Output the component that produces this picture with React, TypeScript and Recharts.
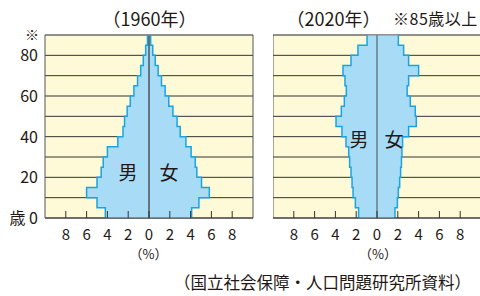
import React from 'react';
import {
  ComposedChart,
  Area,
  XAxis,
  YAxis,
  CartesianGrid,
  ReferenceLine,
} from 'recharts';

// band starts (5-year bands), last entry closes the top band
const AGES = [0, 5, 10, 15, 20, 25, 30, 35, 40, 45, 50, 55, 60, 65, 70, 75, 80, 85, 90];

// % of total population per 5-year band, 0-4 ... 85+
const MALE_1960 = [4.2, 5.0, 6.0, 5.0, 4.6, 4.4, 4.0, 3.0, 2.5, 2.35, 2.1, 1.8, 1.45, 1.1, 0.8, 0.55, 0.32, 0.15];
const FEMALE_1960 = [4.1, 4.8, 5.8, 5.05, 4.6, 4.45, 4.05, 3.55, 3.0, 2.7, 2.3, 1.9, 1.55, 1.2, 0.88, 0.6, 0.36, 0.16];
const MALE_2020 = [1.77, 2.08, 2.3, 2.4, 2.5, 2.63, 2.72, 2.98, 3.37, 3.94, 3.43, 3.14, 2.95, 3.08, 3.27, 2.5, 1.83, 0.96];
const FEMALE_2020 = [1.73, 1.96, 2.05, 2.18, 2.27, 2.35, 2.4, 2.46, 3.04, 3.78, 3.68, 3.2, 2.9, 3.04, 4.0, 3.04, 2.56, 2.05];

const X_TICKS = [-8, -6, -4, -2, 0, 2, 4, 6, 8];
// grid every 10 years, labels every 20 (90 = ※ top row)
const Y_TICKS = [0, 10, 20, 30, 40, 50, 60, 70, 80, 90];

const TEXT = '#231815';
const CREAM = '#fef9d6';
const FILL = '#a8dcf6';
const OUTLINE = '#18a5e3';

const XTick = (props: any) => {
  const { x, y, payload } = props;
  return (
    <g>
      <line x1={x} x2={x} y1={y - 7} y2={y} stroke='#333' />
      <text x={x} y={y + 22} textAnchor='middle' fontSize={15} fill={TEXT}>
        {Math.abs(payload.value)}
      </text>
    </g>
  );
};

const YTick = (props: any) => {
  const { x, y, payload } = props;
  const v = payload.value;
  if (v === 90) {
    return (
      <text x={x + 1} y={y + 5} textAnchor='end' fontSize={14} fill={TEXT}>
        ※
      </text>
    );
  }
  if (v % 20 !== 0) return <g />;
  return (
    <text x={x} y={y + 6} textAnchor='end' fontSize={16} fill={TEXT}>
      {v === 0 ? '歳 0' : v}
    </text>
  );
};

function Pyramid({
  male,
  female,
  showAxis,
  centerColor,
}: {
  male: number[];
  female: number[];
  showAxis: boolean;
  centerColor: string;
}) {
  const data = AGES.map((age, i) => {
    const k = Math.min(i, male.length - 1);
    return { age, m: -male[k], f: female[k] };
  });

  return (
    <ComposedChart
      layout='vertical'
      width={showAxis ? 260 : 215}
      height={260}
      data={data}
      margin={{ top: 35, right: 7, bottom: 0, left: 0 }}
    >
      <CartesianGrid vertical={false} fill={CREAM} fillOpacity={1} stroke='#333' />
      <XAxis
        type='number'
        domain={[-10, 10]}
        ticks={X_TICKS}
        interval={0}
        height={42}
        tickSize={0}
        tickMargin={0}
        tick={<XTick />}
        axisLine={{ stroke: '#444' }}
      />
      <YAxis
        type='number'
        dataKey='age'
        domain={[0, 90]}
        ticks={Y_TICKS}
        interval={0}
        reversed
        width={45}
        hide={!showAxis}
        tickSize={0}
        tickMargin={7}
        tick={<YTick />}
        axisLine={{ stroke: '#555' }}
      />
      <Area
        dataKey='m'
        type='stepBefore'
        fill={FILL}
        fillOpacity={1}
        stroke={OUTLINE}
        strokeWidth={1.5}
        dot={false}
        activeDot={false}
        isAnimationActive={false}
      />
      <Area
        dataKey='f'
        type='stepBefore'
        fill={FILL}
        fillOpacity={1}
        stroke={OUTLINE}
        strokeWidth={1.5}
        dot={false}
        activeDot={false}
        isAnimationActive={false}
      />
      <ReferenceLine x={0} stroke={centerColor} strokeWidth={1.2} />
      <ReferenceLine y={90} stroke='#888' />
      <ReferenceLine x={10} stroke='#555' />
      {!showAxis && <ReferenceLine x={-10} stroke='#555' />}
    </ComposedChart>
  );
}

export default function App() {
  return (
    <div
      style={{
        position: 'absolute',
        left: 0,
        top: 0,
        width: 480,
        height: 296,
        overflow: 'hidden',
        background: '#fff',
        fontFamily: "'Noto Sans CJK JP', 'Noto Sans', sans-serif",
      }}
    >
      <div style={{ position: 'absolute', left: 0, top: 0 }}>
        <Pyramid male={MALE_1960} female={FEMALE_1960} showAxis centerColor='#333' />
      </div>
      <div style={{ position: 'absolute', left: 273, top: 0 }}>
        <Pyramid male={MALE_2020} female={FEMALE_2020} showAxis={false} centerColor='#556570' />
      </div>
      <svg
        width={480}
        height={296}
        style={{ position: 'absolute', left: 0, top: 0, pointerEvents: 'none' }}
      >
        <g fill={TEXT}>
          <text x={149.5} y={26} fontSize={18} textAnchor='middle'>（1960年）</text>
          <text x={333.5} y={26} fontSize={18} textAnchor='middle'>（2020年）</text>
          <text x={393} y={25} fontSize={16} letterSpacing={0.5}>※85歳以上</text>
          <text x={128} y={179.5} fontSize={19} textAnchor='middle'>男</text>
          <text x={169} y={179.5} fontSize={19} textAnchor='middle'>女</text>
          <text x={359} y={146.5} fontSize={19} textAnchor='middle'>男</text>
          <text x={394} y={146.5} fontSize={19} textAnchor='middle'>女</text>
          <text x={148.5} y={259} fontSize={13} textAnchor='middle'>（%）</text>
          <text x={378} y={259} fontSize={13} textAnchor='middle'>（%）</text>
          <text x={174} y={289} fontSize={16.5}>（国立社会保障・人口問題研究所資料）</text>
        </g>
      </svg>
    </div>
  );
}
